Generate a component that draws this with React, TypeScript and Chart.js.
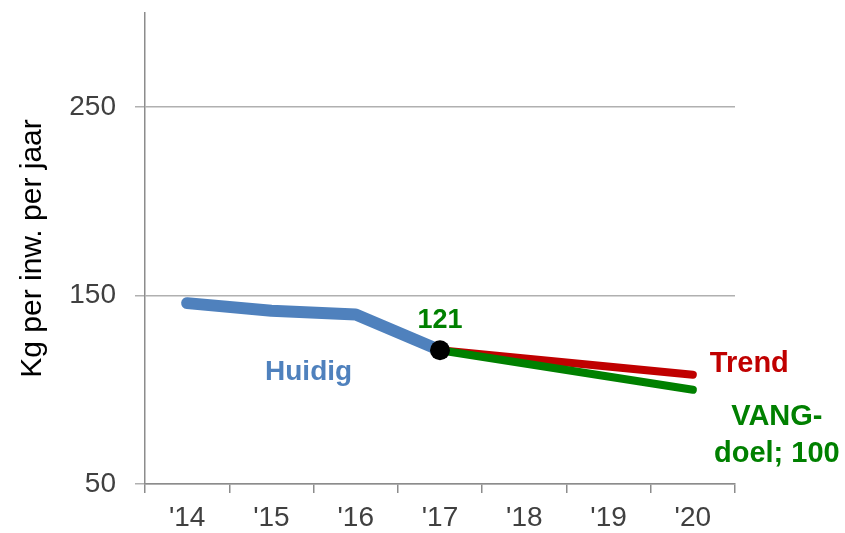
import React, { useEffect, useRef } from "react";
import { Chart, registerables } from "chart.js";

Chart.register(...registerables);

const categories = ["'14", "'15", "'16", "'17", "'18", "'19", "'20"];
const huidig = [146, 142, 140, 121, null, null, null];
const trend = [null, null, null, 121, null, null, 108];
const vangDoel = [null, null, null, 121, null, null, 100];
const current = [null, null, null, 121, null, null, null];
const yTicks = [50, 150, 250];
const yTitle = "Kg per inw. per jaar";

const BLUE = "#4F81BD";
const RED = "#C00000";
const GREEN = "#008000";
const FAMILY = '"Liberation Sans", Arial, sans-serif';

const labelPlugin = {
  id: "labels",
  afterDatasetsDraw(chart: any) {
    const { ctx, scales } = chart;
    const x = scales.x;
    const y = scales.y;
    ctx.save();
    ctx.textBaseline = "alphabetic";
    const font = (s: number) => `bold ${s}px ${FAMILY}`;
    // 121 above the dot
    ctx.font = font(27);
    ctx.fillStyle = GREEN;
    ctx.textAlign = "center";
    ctx.fillText(String(current[3]), x.getPixelForValue(3), y.getPixelForValue(current[3] as number) - 22);
    // Huidig
    ctx.font = font(28);
    ctx.fillStyle = BLUE;
    ctx.textAlign = "center";
    ctx.fillText("Huidig", (x.getPixelForValue(1) + x.getPixelForValue(2)) / 2 - 5, y.getPixelForValue(110) + 9);
    // Trend
    ctx.font = font(29);
    ctx.fillStyle = RED;
    ctx.textAlign = "left";
    ctx.fillText("Trend", x.getPixelForValue(6) + 17, y.getPixelForValue(108) - 3);
    // VANG-doel
    ctx.fillStyle = GREEN;
    ctx.textAlign = "center";
    const cx = x.getPixelForValue(6) + 84;
    ctx.fillText("VANG-", cx, y.getPixelForValue(100) + 35);
    ctx.fillText("doel; 100", cx, y.getPixelForValue(100) + 72);
    ctx.restore();
  },
};

export default function App() {
  const ref = useRef<HTMLCanvasElement | null>(null);
  useEffect(() => {
    document.body.style.margin = "0";
    const chart = new Chart(ref.current as HTMLCanvasElement, {
      type: "line",
      data: {
        labels: categories,
        datasets: [
          {
            label: "Nu",
            data: current,
            borderColor: "#000",
            backgroundColor: "#000",
            pointRadius: 10,
            pointBorderWidth: 0,
            showLine: false,
          },
          {
            label: "VANG-doel",
            data: vangDoel,
            borderColor: GREEN,
            borderWidth: 8,
            borderCapStyle: "round",
            pointRadius: 0,
            spanGaps: true,
          },
          {
            label: "Trend",
            data: trend,
            borderColor: RED,
            borderWidth: 8,
            borderCapStyle: "round",
            pointRadius: 0,
            spanGaps: true,
          },
          {
            label: "Huidig",
            data: huidig,
            borderColor: BLUE,
            borderWidth: 12,
            borderCapStyle: "round",
            borderJoinStyle: "round",
            pointRadius: 0,
          },
        ] as any,
      },
      options: {
        animation: false,
        responsive: false,
        layout: { padding: { top: 13, right: 110, left: 0, bottom: 0 } },
        plugins: { legend: { display: false }, tooltip: { enabled: false } },
        scales: {
          x: {
            offset: true,
            grid: { offset: true, drawOnChartArea: false, drawTicks: true, tickLength: 9, color: "#8c8c8c", lineWidth: 1.5 },
            border: { color: "#8c8c8c", width: 1.5 },
            ticks: {
              color: "#404040",
              padding: 8,
              font: { family: FAMILY, size: 28 },
            },
            afterFit(scale: any) {
              scale.height = 49;
              scale.paddingLeft = 0;
              scale.paddingRight = 0;
            },
          },
          y: {
            min: 50,
            max: 300,
            afterBuildTicks(scale: any) {
              scale.ticks = yTicks.map((v) => ({ value: v }));
            },
            grid: { tickLength: 10, color: "#b0b0b0", lineWidth: 1.5 },
            border: { color: "#8c8c8c", width: 1.5 },
            ticks: {
              color: "#404040",
              padding: 19,
              font: { family: FAMILY, size: 28 },
            },
            title: {
              display: true,
              text: yTitle,
              color: "#000",
              padding: { top: 15, bottom: 0 },
              font: { family: FAMILY, size: 30 },
            },
            afterFit(scale: any) {
              scale.width = 145;
              scale.paddingTop = 0;
              scale.paddingBottom = 0;
            },
          },
        },
      },
      plugins: [labelPlugin],
    });
    return () => chart.destroy();
  }, []);
  return (
    <div style={{ width: 845, height: 533 }}>
      <canvas ref={ref} width={845} height={533} />
    </div>
  );
}
